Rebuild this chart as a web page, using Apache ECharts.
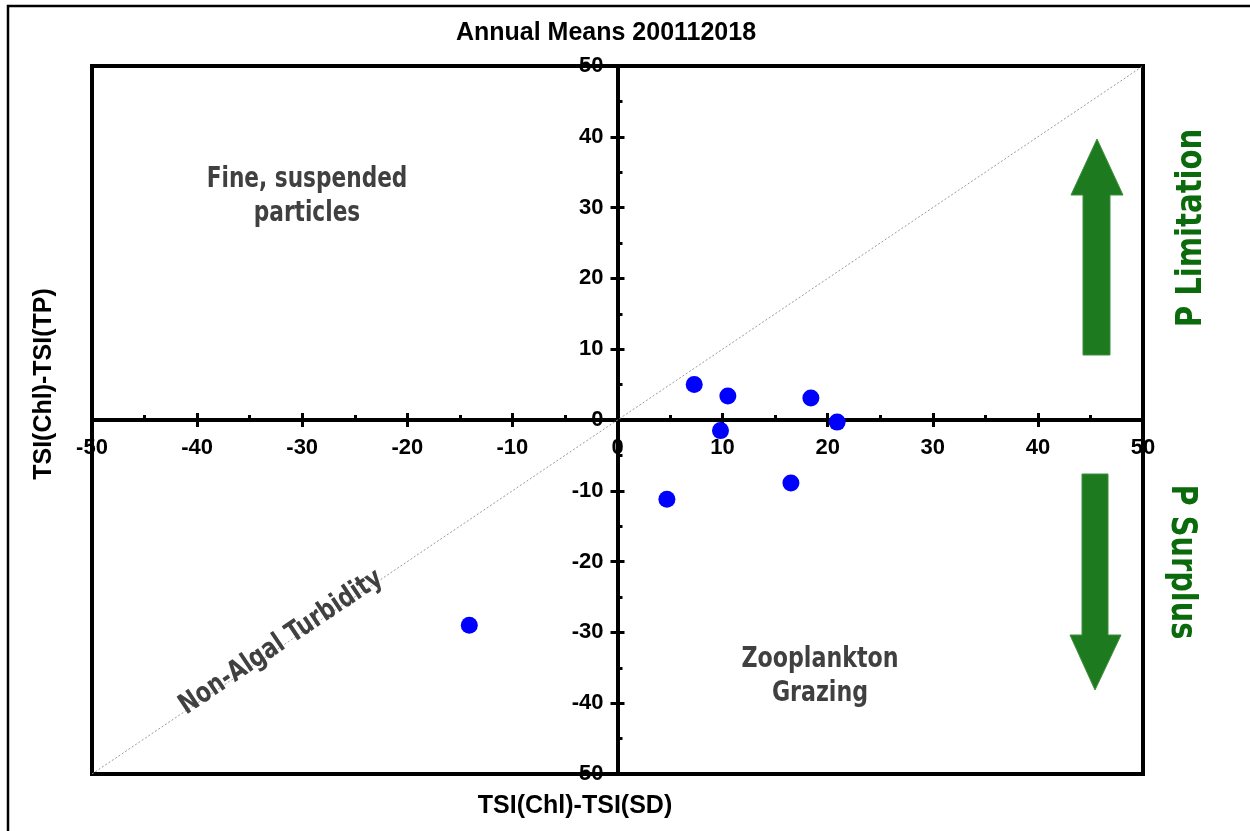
<!DOCTYPE html>
<html>
<head>
<meta charset="utf-8">
<script src="https://cdn.jsdelivr.net/npm/echarts@6/dist/echarts.min.js"></script>
<style>
  html, body { margin: 0; padding: 0; background: #fff; }
  #chart { width: 1250px; height: 831px; }
</style>
</head>
<body>
<div id="chart"></div>
<script>
// Annual means: TSI(Chl)-TSI(SD) vs TSI(Chl)-TSI(TP)
const xDiff = [7.3, 10.5, 18.4, 20.9, 9.8, 4.7, 16.5, -14.1];
const yDiff = [5.0, 3.4, 3.1, -0.3, -1.5, -11.2, -8.9, -29.0];

// 1:1 reference line
const refX = [-50, 50];
const refY = [-50, 50];

// axis range
const axisMin = -50;
const axisMax = 50;
const axisStep = 10;

const titleText = 'Annual Means 200112018';
const xName = 'TSI(Chl)-TSI(SD)';
const yName = 'TSI(Chl)-TSI(TP)';
const quadrantNotes = ['Fine, suspended\nparticles', 'Zooplankton\nGrazing', 'Non-Algal Turbidity'];
const sideNotes = ['P Limitation', 'P Surplus'];

const points = xDiff.map((x, i) => [x, yDiff[i]]);
const refLine = refX.map((x, i) => [x, refY[i]]);

// plot box in page pixels
const W = 1250, H = 831;
const plotL = 92, plotR = 1143, plotT = 66, plotB = 774;
// where the zero lines fall inside the plot box
const zeroX = plotL + (0 - axisMin) / (axisMax - axisMin) * (plotR - plotL);
const zeroY = plotB - (0 - axisMin) / (axisMax - axisMin) * (plotB - plotT);

const labelFont = { fontFamily: 'Liberation Sans, Arial, sans-serif', fontWeight: 'bold', fontSize: 22, color: '#000' };
const boldFont = 'bold 25px "Liberation Sans", Arial, sans-serif';
const noteFont = 'bold 28px "DejaVu Sans Condensed", "Liberation Sans Narrow", sans-serif';
const sideFont = 'bold 36px "DejaVu Sans Condensed", sans-serif';
const green = '#1e7a1e';
const greenText = '#0b6a0b';
const tickLine = { color: '#000', width: 3 };

function valueAxis(extra) {
  return Object.assign({
    type: 'value', min: axisMin, max: axisMax, interval: axisStep,
    splitLine: { show: false },
    axisLine: { show: false, onZero: false },
    axisTick: { show: false },
    axisLabel: { show: false }
  }, extra);
}

const chart = echarts.init(document.getElementById('chart'), null, { renderer: 'canvas' });

chart.setOption({
  backgroundColor: '#fff',
  animation: false,
  grid: [
    // data area with the frame
    { left: plotL, right: W - plotR, top: plotT, bottom: H - plotB,
      show: true, borderColor: '#000', borderWidth: 4, backgroundColor: 'transparent' },
    // upper half: its bottom edge carries the horizontal zero axis
    { left: plotL, right: W - plotR, top: plotT, bottom: H - zeroY },
    // right half: its left edge carries the vertical zero axis
    { left: zeroX, right: W - plotR, top: plotT, bottom: H - plotB }
  ],
  xAxis: [
    valueAxis({ gridIndex: 0 }),
    valueAxis({
      gridIndex: 1, position: 'bottom',
      axisLine: { show: true, onZero: false, lineStyle: { color: '#000', width: 4 } },
      axisTick: { show: true, inside: false, length: 7, lineStyle: tickLine },
      axisLabel: Object.assign({ show: true, margin: 17, showMinLabel: true, showMaxLabel: true }, labelFont)
    }),
    valueAxis({
      gridIndex: 1, position: 'bottom',
      axisTick: { show: true, inside: true, length: 7, lineStyle: tickLine },
      minorTick: { show: true, splitNumber: 2, length: 5, lineStyle: tickLine }
    }),
    valueAxis({ gridIndex: 2 })
  ],
  yAxis: [
    valueAxis({ gridIndex: 0 }),
    valueAxis({ gridIndex: 1 }),
    valueAxis({
      gridIndex: 2, position: 'left',
      axisLine: { show: true, onZero: false, lineStyle: { color: '#000', width: 4 } },
      axisTick: { show: true, inside: false, length: 7, lineStyle: tickLine },
      axisLabel: Object.assign({ show: true, margin: 14, showMinLabel: true, showMaxLabel: true }, labelFont)
    }),
    valueAxis({
      gridIndex: 2, position: 'left',
      axisTick: { show: true, inside: true, length: 7, lineStyle: tickLine },
      minorTick: { show: true, splitNumber: 2, length: 5, lineStyle: tickLine }
    })
  ],
  series: [
    {
      type: 'line', data: refLine, xAxisIndex: 0, yAxisIndex: 0,
      symbol: 'none', silent: true, z: 1,
      lineStyle: { color: '#9a9a9a', width: 1, type: [2, 2] }
    },
    {
      type: 'scatter', data: points, xAxisIndex: 0, yAxisIndex: 0,
      symbol: 'circle', symbolSize: 17, z: 5,
      itemStyle: { color: '#0000ff', opacity: 1 }
    }
  ],
  graphic: { elements: [
    // outer frame
    { type: 'rect', shape: { x: 8, y: 6, width: 1300, height: 900 }, style: { fill: 'none', stroke: '#000', lineWidth: 2.5 }, z: 0 },
    // title and axis names
    { type: 'text', x: 606, y: 33, style: { text: titleText, fill: '#000', font: boldFont, textAlign: 'center', textVerticalAlign: 'middle' }, z: 50 },
    { type: 'text', x: 575, y: 806, style: { text: xName, fill: '#000', font: boldFont, textAlign: 'center', textVerticalAlign: 'middle' }, z: 50 },
    { type: 'text', x: 44, y: 384, rotation: Math.PI / 2, style: { text: yName, fill: '#000', font: boldFont, textAlign: 'center', textVerticalAlign: 'middle' }, z: 50 },
    // quadrant notes
    { type: 'text', x: 307, y: 197, scaleX: 0.86, style: { text: quadrantNotes[0], fill: '#404040', font: noteFont, textAlign: 'center', textVerticalAlign: 'middle', lineHeight: 34 }, z: 50 },
    { type: 'text', x: 820, y: 677, scaleX: 0.88, style: { text: quadrantNotes[1], fill: '#404040', font: noteFont, textAlign: 'center', textVerticalAlign: 'middle', lineHeight: 34 }, z: 50 },
    { type: 'text', x: 289, y: 654, rotation: 0.59, scaleX: 0.87, style: { text: quadrantNotes[2], fill: '#404040', font: noteFont, textAlign: 'center', textVerticalAlign: 'bottom' }, z: 50 },
    // direction arrows
    { type: 'polygon', shape: { points: [[1097, 139], [1123, 195], [1110, 195], [1110, 355], [1083, 355], [1083, 195], [1071, 195]] }, style: { fill: green, stroke: '#3f8f3f', lineWidth: 1 }, z: 40 },
    { type: 'polygon', shape: { points: [[1082, 474], [1108, 474], [1108, 635], [1121, 635], [1095, 690], [1070, 635], [1082, 635]] }, style: { fill: green, stroke: '#3f8f3f', lineWidth: 1 }, z: 40 },
    // side notes
    { type: 'text', x: 1192, y: 228, rotation: Math.PI / 2, scaleX: 0.9, style: { text: sideNotes[0], fill: greenText, font: sideFont, textAlign: 'center', textVerticalAlign: 'middle' }, z: 50 },
    { type: 'text', x: 1181, y: 562, rotation: -Math.PI / 2, scaleX: 0.89, style: { text: sideNotes[1], fill: greenText, font: sideFont, textAlign: 'center', textVerticalAlign: 'middle' }, z: 50 }
  ] }
});
</script>
</body>
</html>
